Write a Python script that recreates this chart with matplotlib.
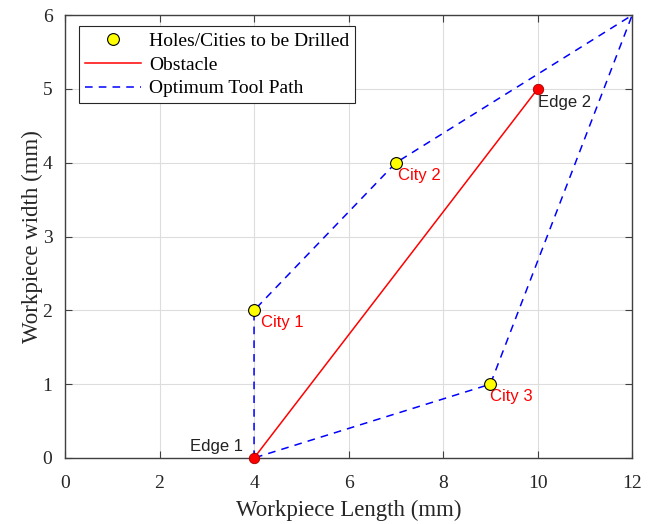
import matplotlib
matplotlib.use("Agg")
import matplotlib.pyplot as plt

# tool path through the holes (closed tour)
path_x = [4, 4, 7, 12, 9, 4]
path_y = [0, 2, 4, 6, 1, 0]

# holes / cities
city_x = [4, 7, 9]
city_y = [2, 4, 1]
city_names = ["City 1", "City 2", "City 3"]

# obstacle between the two edges
edge_x = [4, 10]
edge_y = [0, 5]
edge_names = ["Edge 1", "Edge 2"]

serif = "Liberation Serif"
sans = "Liberation Sans"

fig = plt.figure(figsize=(6.68, 5.24), dpi=100)
ax = fig.add_axes([0.0973, 0.126, 0.849, 0.845])

ax.plot(city_x, city_y, "o", color="k", markerfacecolor="yellow",
        markersize=8.5, markeredgewidth=0.8, linestyle="none",
        label="Holes/Cities to be Drilled", zorder=4)
ax.plot(edge_x, edge_y, "-", color="red", linewidth=1.1, label="Obstacle", zorder=3)
ax.plot(path_x, path_y, "--", color="blue", linewidth=1.1, dashes=(5, 4),
        label="Optimum Tool Path", zorder=3)
ax.plot(edge_x, edge_y, "o", color="red", markersize=7.5, markeredgecolor="#a00000",
        markeredgewidth=0.6, linestyle="none", zorder=5, clip_on=False)

# label offsets as placed in the original figure
label_dx = [0.15, 0.05, 0.0]
for name, x, y, dx in zip(city_names, city_x, city_y, label_dx):
    ax.text(x + dx, y - 0.17, name, color="red", fontsize=12,
            family=sans, ha="left", va="center")
ax.text(3.77, 0.16, edge_names[0], color="#222222", fontsize=12,
        family=sans, ha="right", va="center")
ax.text(10.0, 4.82, edge_names[1], color="#222222", fontsize=12,
        family=sans, ha="left", va="center")

ax.set_xlim(0, 12)
ax.set_ylim(0, 6)
ax.set_xticks(range(0, 13, 2))
ax.set_yticks(range(0, 7))
ax.grid(True, color="#dddddd", linewidth=0.8)
ax.set_axisbelow(True)
ax.tick_params(direction="in", length=5, width=0.8, colors="#404040",
               labelsize=14, top=True, right=True, labeltop=False, labelright=False)
ax.tick_params(axis="x", pad=12)
ax.tick_params(axis="y", pad=9)
for lbl in ax.get_xticklabels() + ax.get_yticklabels():
    lbl.set_family(serif)
    lbl.set_color("#262626")
for s in ax.spines.values():
    s.set_color("#404040")
    s.set_linewidth(1.0)

ax.set_xlabel("Workpiece Length (mm)", family=serif, fontsize=16.5, color="#262626",
              labelpad=6)
ax.set_ylabel("Workpiece width (mm)", family=serif, fontsize=16.5, color="#262626",
              labelpad=0)

leg = ax.legend(loc="upper left", bbox_to_anchor=(0.025, 0.975), fancybox=False,
                edgecolor="#262626", framealpha=1, prop={"family": serif, "size": 14},
                handlelength=2.9, borderpad=0.3, labelspacing=0.32, handletextpad=0.4,
                borderaxespad=0)
leg.get_frame().set_linewidth(0.8)

fig.savefig("out.png", dpi=100)
